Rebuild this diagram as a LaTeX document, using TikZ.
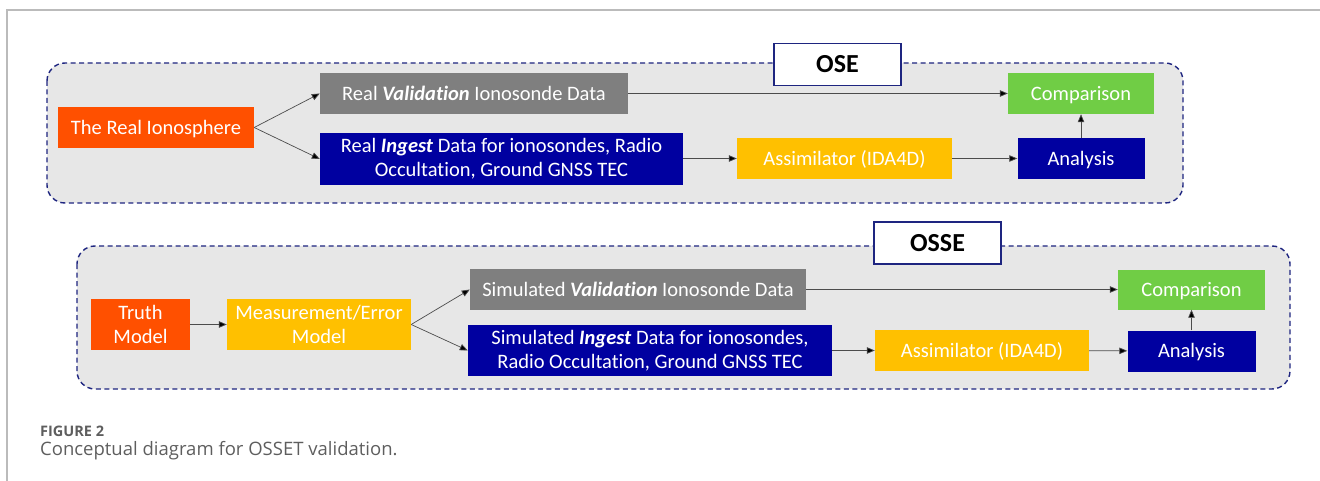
\documentclass[tikz,border=0pt]{standalone}
\usepackage{fontspec}
\setmainfont[Ligatures=NoCommon]{Carlito}
\newfontfamily\capfont{Open Sans}
\usetikzlibrary{arrows.meta}
\definecolor{cOrange}{HTML}{FF5000}
\definecolor{cGray}{HTML}{7F7F7F}
\definecolor{cNavy}{HTML}{0000A0}
\definecolor{cYellow}{HTML}{FFC000}
\definecolor{cGreen}{HTML}{70CD45}
\definecolor{cPanel}{HTML}{E7E7E7}
\definecolor{cDash}{HTML}{1E2580}
\definecolor{cFrame}{HTML}{BBBBBB}
\definecolor{cCap}{HTML}{5E5E5E}
\tikzset{
  box/.style={inner sep=0pt, text=white, align=center, font=\fontsize{20.5}{24}\selectfont},
  oneline/.style={text height=13.2pt, text depth=0pt},
  panel/.style={draw=cDash, fill=cPanel, line width=1.4pt, dash pattern=on 5pt off 3.5pt, rounded corners=18pt},
  tag/.style={draw=cDash, fill=white, line width=1.4pt, inner sep=0pt, text height=16.8pt, text depth=0pt, font=\fontsize{26}{30}\selectfont\bfseries},
  arr/.style={draw=black!70, line width=0.7pt, -{Triangle[length=8pt,width=6.5pt,fill=black]}},
}
\begin{document}
\begin{tikzpicture}[x=1pt,y=-1pt]
\useasboundingbox (0,0) rectangle (1320,481);
% frame
\draw[cFrame, line width=1.5pt] (1320,10) -- (7,10) -- (7,481);
% OSE panel
\draw[panel] (47,63) rectangle (1183,203);
\node[tag, minimum width=127pt, minimum height=42pt] (ose) at (837.5,64.5) {OSE};
\node[box, oneline, fill=cOrange, minimum width=196pt, minimum height=41pt] (ion) at (156,127.5) {The Real Ionosphere};
\node[box, oneline, fill=cGray, minimum width=308pt, minimum height=41pt] (rval) at (474,93.5) {Real \textbf{\textit{Validation}} Ionosonde Data};
\node[box, fill=cNavy, minimum width=363pt, minimum height=52pt] (ring) at (501.5,159) {Real \textbf{\textit{Ingest}} Data for ionosondes, Radio\\Occultation, Ground GNSS TEC};
\node[box, oneline, fill=cGreen, minimum width=146pt, minimum height=41pt] (cmp1) at (1081,93.5) {Comparison};
\node[box, oneline, fill=cYellow, minimum width=215pt, minimum height=41pt] (asm1) at (844.5,158.5) {Assimilator (IDA4D)};
\node[box, oneline, fill=cNavy, minimum width=127pt, minimum height=41pt] (ana1) at (1081,158.5) {Analysis};
\draw[arr] (ion.east) -- (rval.west);
\draw[arr] (ion.east) -- (ring.west);
\draw[arr] (rval) -- (cmp1);
\draw[arr] (ring.east |- asm1.west) -- (asm1.west);
\draw[arr] (asm1) -- (ana1);
\draw[arr] (ana1) -- (cmp1);
% OSSE panel
\draw[panel] (77,246) rectangle (1290,389);
\node[tag, minimum width=127pt, minimum height=42pt] (osse) at (937.5,243) {OSSE};
\node[box, fill=cOrange, minimum width=99pt, minimum height=51pt] (truth) at (140.5,324.5) {Truth\\Model};
\node[box, fill=cYellow, minimum width=184pt, minimum height=51pt] (meas) at (319,324.5) {Measurement/Error\\Model};
\node[box, oneline, fill=cGray, minimum width=336pt, minimum height=41pt] (sval) at (638,289.5) {Simulated \textbf{\textit{Validation}} Ionosonde Data};
\node[box, fill=cNavy, minimum width=364pt, minimum height=51pt] (sing) at (650,350.5) {Simulated \textbf{\textit{Ingest}} Data for ionosondes,\\Radio Occultation, Ground GNSS TEC};
\node[box, oneline, fill=cGreen, minimum width=147pt, minimum height=40pt] (cmp2) at (1191.5,289.5) {Comparison};
\node[box, oneline, fill=cYellow, minimum width=214pt, minimum height=41pt] (asm2) at (982,350.5) {Assimilator (IDA4D)};
\node[box, oneline, fill=cNavy, minimum width=128pt, minimum height=41pt] (ana2) at (1191.5,351) {Analysis};
\draw[arr] (truth) -- (meas);
\draw[arr] (meas.east) -- (sval.west);
\draw[arr] (meas.east) -- (sing.west);
\draw[arr] (sval) -- (cmp2);
\draw[arr] (sing) -- (asm2);
\draw[arr] (asm2) -- (ana2);
\draw[arr] (ana2) -- (cmp2);
% caption
\node[anchor=base west, inner sep=0pt, text=cCap, font=\capfont\fontsize{14.5}{17}\selectfont\bfseries] (fig) at (40,436) {FIGURE 2};
\node[anchor=base west, inner sep=0pt, text=cCap, font=\capfont\fontsize{18.5}{22}\selectfont] (cap) at (40,455) {Conceptual diagram for OSSET validation.};
\end{tikzpicture}
\end{document}
